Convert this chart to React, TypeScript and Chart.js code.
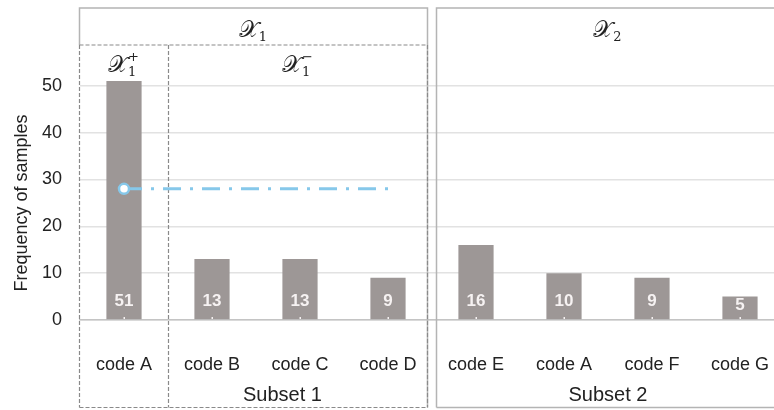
import React, { useEffect, useRef } from 'react';
import { Chart, registerables } from 'chart.js';

Chart.register(...registerables);

const categories = ['code A', 'code B', 'code C', 'code D', 'code E', 'code A', 'code F', 'code G'];
const frequencies = [51, 13, 13, 9, 16, 10, 9, 5];
const meanLine = [28, 28, 28, 28, null, null, null, null];
const yTickValues = [0, 10, 20, 30, 40, 50];
const subsetLabels = ['Subset 1', 'Subset 2'];
const yTitle = 'Frequency of samples';

const FONT = '"Liberation Sans", Arial, sans-serif';
const MATH = '"DejaVu Serif", "Liberation Serif", serif';

function drawMath(ctx: CanvasRenderingContext2D, cx: number, cy: number, sub: string, sup: string) {
  ctx.save();
  ctx.textBaseline = 'alphabetic';
  ctx.textAlign = 'left';
  ctx.font = '23px ' + MATH;
  const base = '𝒳';
  const bw = ctx.measureText(base).width;
  ctx.font = '13px ' + MATH;
  const sw = Math.max(ctx.measureText(sub).width, sup ? ctx.measureText(sup).width : 0);
  const total = bw + sw + 1;
  const x0 = cx - total / 2;
  ctx.fillStyle = '#222';
  ctx.font = '23px ' + MATH;
  ctx.fillText(base, x0, cy + 7);
  ctx.font = '13px ' + MATH;
  ctx.fillText(sub, x0 + bw, cy + 11);
  if (sup) ctx.fillText(sup, x0 + bw, cy - 4);
  ctx.restore();
}

export default function App() {
  const ref = useRef<HTMLCanvasElement>(null);
  useEffect(() => {
    const canvas = ref.current!;
    const decor = {
      id: 'decor',
      beforeDatasetsDraw(chart: any) {
        const ctx = chart.ctx as CanvasRenderingContext2D;
        const xs = chart.scales.x;
        const area = chart.chartArea;
        const step = xs.getPixelForValue(1) - xs.getPixelForValue(0);
        const half = step / 2;
        const left = Math.round(xs.getPixelForValue(0) - half) - 0.5;
        const bAB = Math.round(xs.getPixelForValue(0) + half) + 0.5;
        const bDE = xs.getPixelForValue(3) + half;
        const right1 = Math.round(bDE - 5) + 0.5;
        const left2 = Math.round(bDE + 4) + 0.5;
        const top = area.top + 0.5;
        const dashY = top + 37;
        const bottom = 407.5;
        ctx.save();
        // solid outer frames
        ctx.strokeStyle = '#b4b4b4';
        ctx.lineWidth = 1.5;
        ctx.setLineDash([]);
        ctx.beginPath();
        ctx.moveTo(left, dashY);
        ctx.lineTo(left, top);
        ctx.lineTo(right1, top);
        ctx.lineTo(right1, bottom);
        ctx.stroke();
        ctx.beginPath();
        ctx.moveTo(left2, bottom);
        ctx.lineTo(left2, top);
        ctx.lineTo(chart.width + 5, top);
        ctx.moveTo(left2, bottom);
        ctx.lineTo(chart.width + 5, bottom);
        ctx.stroke();
        // dashed sub boxes
        ctx.strokeStyle = '#8a8a8a';
        ctx.lineWidth = 1.2;
        ctx.setLineDash([4, 2]);
        ctx.beginPath();
        ctx.moveTo(left, dashY);
        ctx.lineTo(right1, dashY);
        ctx.moveTo(left, dashY);
        ctx.lineTo(left, bottom);
        ctx.moveTo(bAB, dashY);
        ctx.lineTo(bAB, bottom);
        ctx.moveTo(right1, dashY);
        ctx.lineTo(right1, bottom);
        ctx.moveTo(left, bottom);
        ctx.lineTo(right1, bottom);
        ctx.stroke();
        ctx.setLineDash([]);
        // headers
        drawMath(ctx, (left + right1) / 2, top + 22, '1', '');
        drawMath(ctx, xs.getPixelForValue(5.5), top + 22, '2', '');
        drawMath(ctx, xs.getPixelForValue(0), top + 57, '1', '+');
        drawMath(ctx, (bAB + right1) / 2, top + 57, '1', '−');
        // subset labels
        ctx.fillStyle = '#222';
        ctx.font = '20px ' + FONT;
        ctx.textAlign = 'center';
        ctx.textBaseline = 'middle';
        ctx.fillText(subsetLabels[0], xs.getPixelForValue(1.8), 395);
        ctx.fillText(subsetLabels[1], xs.getPixelForValue(5.5), 395);
        // y title
        ctx.save();
        ctx.translate(22, 203);
        ctx.rotate(-Math.PI / 2);
        ctx.font = '18px ' + FONT;
        ctx.fillStyle = '#222';
        ctx.fillText(yTitle, 0, 0);
        ctx.restore();
        ctx.restore();
      },
      afterDatasetsDraw(chart: any) {
        const ctx = chart.ctx as CanvasRenderingContext2D;
        const meta = chart.getDatasetMeta(1);
        const ys = chart.scales.y;
        const base = ys.getPixelForValue(0);
        ctx.save();
        ctx.fillStyle = '#f6f2f2';
        ctx.font = 'bold 17px ' + FONT;
        ctx.textAlign = 'center';
        ctx.textBaseline = 'middle';
        meta.data.forEach((el: any, i: number) => {
          const ly = Math.max(base - 19, el.y + 9);
          ctx.fillText(String(frequencies[i]), el.x, ly);
          ctx.fillRect(el.x - 0.5, base - 3, 1.5, 2);
        });
        ctx.restore();
      },
    };
    const chart = new Chart(canvas, {
      data: {
        labels: categories,
        datasets: [
          {
            type: 'line',
            label: 'mean',
            data: meanLine,
            borderColor: '#86c8ea',
            borderWidth: 3,
            borderDash: [18, 9, 3, 9],
            pointRadius: [5, 0, 0, 0, 0, 0, 0, 0],
            pointBackgroundColor: '#ffffff',
            pointBorderColor: '#86c8ea',
            pointBorderWidth: 2.5,
            spanGaps: false,
            order: 0,
          },
          {
            type: 'bar',
            label: 'freq',
            data: frequencies,
            backgroundColor: '#9d9796',
            barPercentage: 0.4,
            categoryPercentage: 1,
            order: 1,
          },
        ],
      } as any,
      options: {
        responsive: false,
        animation: false,
        layout: { padding: { top: 5, right: 16, left: 0, bottom: 0 } },
        plugins: { legend: { display: false }, tooltip: { enabled: false } },
        scales: {
          x: {
            offset: true,
            grid: { display: false, drawTicks: false },
            border: { display: true, color: '#c4c4c4', width: 1.5 },
            ticks: { color: '#222', font: { family: FONT, size: 18 }, padding: 34, maxRotation: 0, autoSkip: false },
            afterFit(scale: any) { scale.height = 90; scale.paddingLeft = 0; scale.paddingRight = 0; },
          },
          y: {
            min: 0,
            max: 66.7,
            grid: { color: '#e2e2e2', lineWidth: 1.5, drawTicks: false },
            border: { display: false },
            ticks: { color: '#222', font: { family: FONT, size: 18 }, padding: 18 },
            afterBuildTicks(scale: any) { scale.ticks = yTickValues.map((v) => ({ value: v })); },
            afterFit(scale: any) { scale.width = 80; scale.paddingTop = 0; scale.paddingBottom = 0; },
          },
        },
      } as any,
      plugins: [decor],
    });
    return () => chart.destroy();
  }, []);
  return (
    <div style={{ position: 'fixed', left: 0, top: 0, width: 774, height: 410, overflow: 'hidden', background: '#fff' }}>
      <canvas ref={ref} width={800} height={410} style={{ width: 800, height: 410, display: 'block' }} />
    </div>
  );
}
